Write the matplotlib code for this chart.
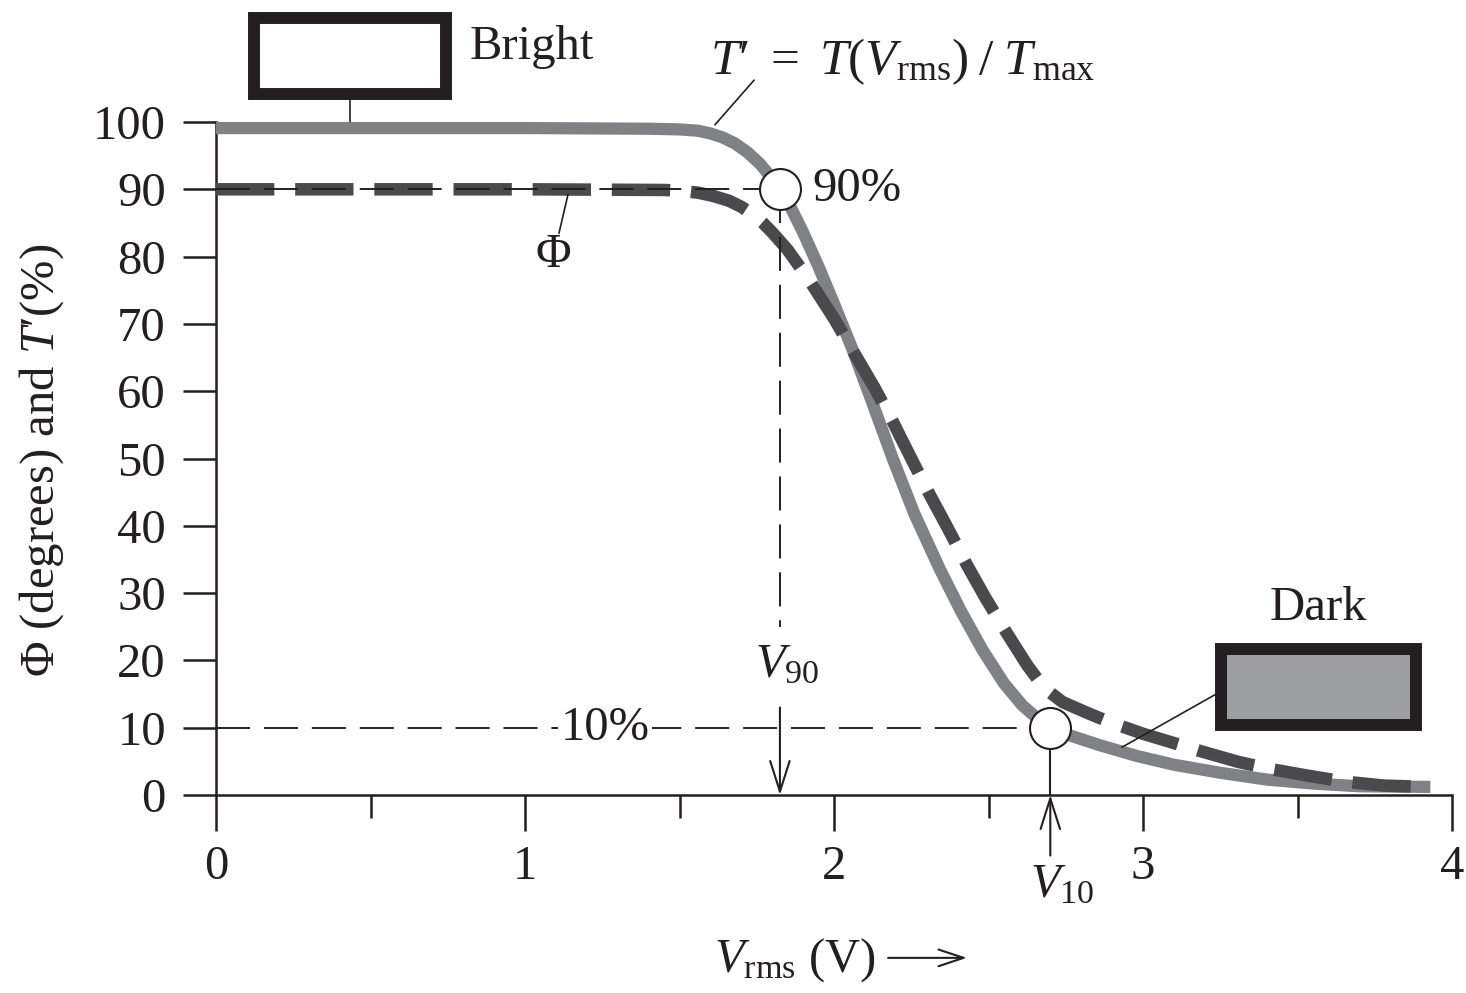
import matplotlib
matplotlib.use("Agg")
import matplotlib.pyplot as plt
from matplotlib.patches import Rectangle

plt.rcParams["font.family"] = ["Liberation Serif", "DejaVu Serif"]
plt.rcParams["mathtext.fontset"] = "custom"
plt.rcParams["mathtext.rm"] = "Liberation Serif"
plt.rcParams["mathtext.it"] = "Liberation Serif:italic"
plt.rcParams["mathtext.bf"] = "Liberation Serif:bold"
plt.rcParams["lines.scale_dashes"] = False

INK = "#231f20"
T_COLOR = "#808185"
PHI_COLOR = "#4a4a4d"
DARK_FILL = "#9d9ea2"

# Normalised transmission T' = T(Vrms)/Tmax (%)
v_rms_T = [0.00, 0.50, 1.00, 1.40, 1.50, 1.56, 1.60, 1.64, 1.68, 1.72, 1.76,
           1.80, 1.825, 1.86, 1.90, 1.95, 2.00, 2.06, 2.12, 2.19, 2.26, 2.34,
           2.41, 2.48, 2.55, 2.61, 2.66, 2.70, 2.76, 2.86, 2.98, 3.10, 3.25,
           3.40, 3.55, 3.70, 3.93]
t_prime = [99.1, 99.1, 99.1, 99.0, 98.9, 98.7, 98.3, 97.7, 96.8, 95.5, 93.8,
           91.6, 90.0, 87.3, 83.6, 78.5, 73.0, 66.2, 58.8, 50.0, 41.8, 33.8,
           27.4, 21.6, 16.6, 13.3, 11.3, 10.0, 8.9, 7.4, 5.8, 4.5, 3.3,
           2.3, 1.7, 1.3, 1.2]

# Twist angle Phi (degrees)
v_rms_phi = [0.00, 0.50, 1.00, 1.45, 1.50, 1.56, 1.61, 1.66, 1.70, 1.74, 1.77,
             1.80, 1.85, 1.92, 2.00, 2.07, 2.13, 2.19, 2.25, 2.31, 2.37, 2.43,
             2.49, 2.56, 2.625, 2.68, 2.74, 2.83, 2.90, 3.00, 3.08, 3.18, 3.31,
             3.42, 3.53, 3.65, 3.78, 3.92]
phi = [90.0, 90.0, 90.0, 89.9, 89.8, 89.5, 89.0, 88.3, 87.4, 86.2, 85.0,
       83.6, 81.0, 76.5, 70.8, 65.3, 60.6, 55.5, 50.0, 44.6, 39.5, 34.2,
       29.3, 24.0, 19.3, 15.9, 13.8, 12.0, 10.7, 9.1, 8.0, 6.6, 4.9,
       3.8, 2.9, 2.0, 1.4, 1.2]

# Threshold voltages at the 90 % and 10 % transmission levels
v90, level90 = 1.825, 90
v10, level10 = 2.70, 10

x_major = [0, 1, 2, 3, 4]
x_minor = [0.5, 1.5, 2.5, 3.5]
y_ticks = [0, 10, 20, 30, 40, 50, 60, 70, 80, 90, 100]

W, H = 1466, 993
fig = plt.figure(figsize=(W / 100, H / 100), dpi=100)
ax = fig.add_axes([216 / W, (H - 795) / H, 1236 / W, 673 / H])
ax.set_xlim(0, 4)
ax.set_ylim(0, 100)

FS = 35

# axes styling
for s in ("top", "right"):
    ax.spines[s].set_visible(False)
for s in ("left", "bottom"):
    ax.spines[s].set_linewidth(1.8)
    ax.spines[s].set_color(INK)
ax.set_xticks(x_major)
ax.set_xticks(x_minor, minor=True)
ax.set_yticks(y_ticks)
ax.tick_params(axis="x", which="major", direction="out", length=26, width=1.8,
               color=INK, labelsize=FS, labelcolor=INK, pad=10)
ax.tick_params(axis="x", which="minor", direction="out", length=16.5, width=1.8,
               color=INK)
ax.tick_params(axis="y", which="major", direction="out", length=24, width=1.8,
               color=INK, labelsize=FS, labelcolor=INK, pad=12)
ax.tick_params(axis="y", which="minor", left=False)

# curves
ax.plot(v_rms_T, t_prime, color=T_COLOR, lw=8.8, solid_joinstyle="round",
        solid_capstyle="butt", clip_on=False, zorder=3)
ax.plot(v_rms_phi, phi, color=PHI_COLOR, lw=9.0, linestyle=(0, (42, 15)),
        dash_capstyle="butt", dash_joinstyle="round", clip_on=False, zorder=4)

# reference lines
thin = dict(color=INK, lw=1.4, linestyle=(0, (24.5, 10)), zorder=5)
ax.plot([0, v90], [level90, level90], **thin)
ax.plot([0, v10], [level10, level10], **thin)
ax.plot([v90, v90], [level90, 25], **thin)

# arrows to the voltage axis
arrow_style = "->,head_length=1.1,head_width=0.35"
ax.annotate("", xy=(v90, 0), xytext=(v90, 13),
            arrowprops=dict(arrowstyle=arrow_style, color=INK, lw=1.5,
                            mutation_scale=20, shrinkA=0, shrinkB=0), zorder=6)
ax.plot([v10, v10], [0, level10], color=INK, lw=1.5, zorder=5)
ax.annotate("", xy=(v10, 0), xytext=(v10, -9), annotation_clip=False,
            arrowprops=dict(arrowstyle=arrow_style, color=INK, lw=1.5,
                            mutation_scale=20, shrinkA=0, shrinkB=0), zorder=6)

# 90 % and 10 % markers
ax.plot([v90, v10], [level90, level10], "o", ms=29.5, mfc="white", mec=INK,
        mew=1.5, zorder=7, clip_on=False)

# text labels
ax.text(1.929, level90, "90%", fontsize=FS, color=INK, ha="left", va="center")
ax.text(1.259, level10, "10%", fontsize=FS, color=INK, ha="center", va="center",
        zorder=6, bbox=dict(facecolor="white", edgecolor="none", pad=2))
ax.text(1.744, 19.3, r"$V_{90}$", fontsize=FS, color=INK, ha="left", va="center")
ax.text(2.634, -13.4, r"$V_{10}$", fontsize=FS, color=INK, ha="left",
        va="center", clip_on=False)
ax.text(1.091, 80.2, r"$\Phi$", fontsize=FS, color=INK, ha="center", va="center")
ax.plot([1.139, 1.110], [89.2, 83.5], color=INK, lw=1.2, zorder=6)

ax.text(1.599, 108.9, r"$T$′ $=$ $T(V_{\mathrm{rms}})\;/\;T_{\mathrm{max}}$",
        fontsize=37, color=INK, ha="left", va="center", clip_on=False)
ax.plot([1.741, 1.615], [106.2, 99.6], color=INK, lw=1.2, clip_on=False, zorder=6)

# bright / dark state icons
ax.add_patch(Rectangle((0.123, 104.2), 0.744 - 0.123, 115.5 - 104.2,
                       facecolor="white", edgecolor=INK, lw=8.6,
                       clip_on=False, zorder=6))
ax.plot([0.434, 0.434], [99.5, 104.2], color=INK, lw=1.2, clip_on=False, zorder=2)
ax.text(0.822, 111.2, "Bright", fontsize=FS, color=INK, ha="left", va="center",
        clip_on=False)

ax.add_patch(Rectangle((3.252, 10.4), 3.883 - 3.252, 21.7 - 10.4,
                       facecolor=DARK_FILL, edgecolor=INK, lw=8.6,
                       clip_on=False, zorder=6))
ax.plot([3.233, 2.932], [14.9, 7.1], color=INK, lw=1.2, zorder=6)
ax.text(3.566, 27.8, "Dark", fontsize=FS, color=INK, ha="center", va="center")

# axis titles
ax.text(2.133, -24.5, r"$V_{\mathrm{rms}}$ (V)", fontsize=FS, color=INK,
        ha="right", va="center", clip_on=False)
ax.annotate("", xy=(2.43, -24.2), xytext=(2.175, -24.2), annotation_clip=False,
            arrowprops=dict(arrowstyle="->,head_length=0.9,head_width=0.3",
                            color=INK, lw=1.5, mutation_scale=20,
                            shrinkA=0, shrinkB=0))
fig.text(42 / W, 1 - 460 / H, r"$\Phi$ (degrees) and $T$′(%)", fontsize=FS,
         color=INK, rotation=90, ha="center", va="center")

fig.savefig("out.png", dpi=100, facecolor="white")
